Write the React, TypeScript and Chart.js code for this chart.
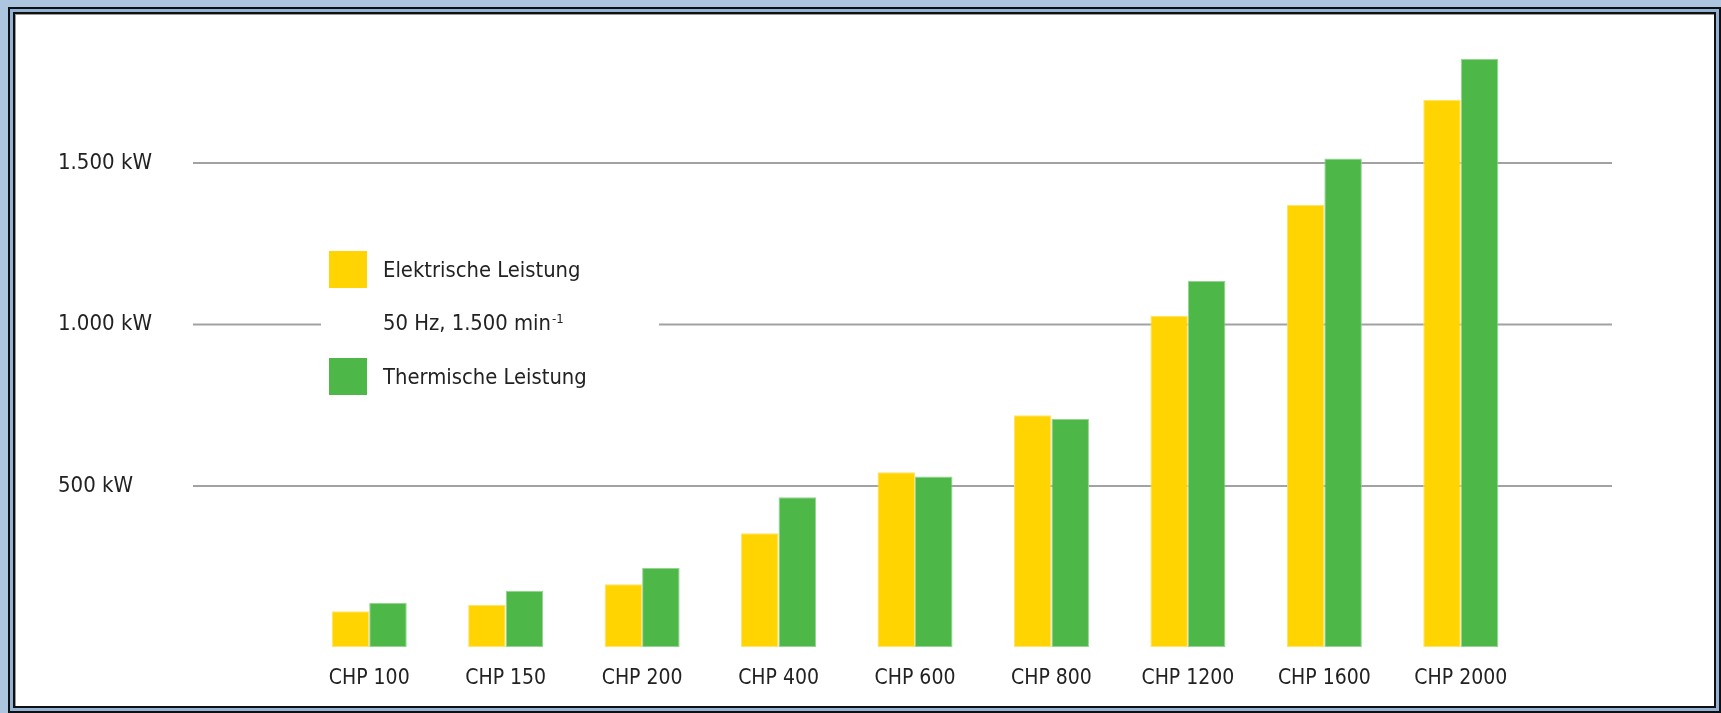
import React, { useEffect, useRef } from 'react';
import { Chart, registerables } from 'chart.js';

Chart.register(...registerables);

const categories = ['CHP 100', 'CHP 150', 'CHP 200', 'CHP 400', 'CHP 600', 'CHP 800', 'CHP 1200', 'CHP 1600', 'CHP 2000'];
const elektrisch = [112, 131, 195, 353, 542, 719, 1027, 1370, 1696];
const thermisch = [138, 175, 246, 465, 529, 707, 1135, 1514, 1823];
const yTickValues = [500, 1000, 1500];
const seriesLabels = ['Elektrische Leistung', 'Thermische Leistung'];
const noteText = '50 Hz, 1.500 min';
const noteSup = '-1';

const YELLOW = '#FFD400';
const GREEN = '#4DB748';
const TEXT = '#222222';
const FONT = '"DejaVu Sans Condensed", "Liberation Sans", Arial, sans-serif';

function fmtKW(v: number): string {
  const s = String(Math.round(v));
  const withDots = s.replace(/\B(?=(\d{3})+(?!\d))/g, '.');
  return withDots + ' kW';
}

const gridPlugin = {
  id: 'extGrid',
  beforeDatasetsDraw(chart: any) {
    const { ctx, chartArea, scales } = chart;
    const y = scales.y;
    ctx.save();
    ctx.strokeStyle = '#a2a2a2';
    ctx.lineWidth = 2;
    yTickValues.forEach((v) => {
      const py = y.getPixelForValue(v);
      ctx.beginPath();
      ctx.moveTo(chartArea.left - 108, py);
      ctx.lineTo(chartArea.right + 83, py);
      ctx.stroke();
    });
    ctx.restore();
  },
};

const legendPlugin = {
  id: 'customLegend',
  afterDraw(chart: any) {
    const { ctx, scales } = chart;
    const y = scales.y;
    const midY = y.getPixelForValue(1000);
    ctx.save();
    ctx.fillStyle = '#ffffff';
    ctx.fillRect(321, midY - 14, 338, 28);
    const colors = [YELLOW, GREEN];
    const boxY = [251, 358];
    const baseY = [277, 384];
    ctx.font = `21.8px ${FONT}`;
    ctx.textBaseline = 'alphabetic';
    ctx.textAlign = 'left';
    for (let i = 0; i < 2; i++) {
      ctx.fillStyle = colors[i];
      ctx.fillRect(329, boxY[i], 38, 37);
      ctx.fillStyle = TEXT;
      ctx.fillText(seriesLabels[i], 383, baseY[i]);
    }
    ctx.fillStyle = TEXT;
    ctx.fillText(noteText, 383, 330);
    const w = ctx.measureText(noteText).width;
    ctx.font = `13px ${FONT}`;
    ctx.fillText(noteSup, 383 + w + 1, 323);
    ctx.restore();
  },
};

export default function App() {
  const canvasRef = useRef<HTMLCanvasElement | null>(null);

  useEffect(() => {
    if (!canvasRef.current) return;
    const chart = new Chart(canvasRef.current, {
      type: 'bar',
      data: {
        labels: categories,
        datasets: [
          {
            label: seriesLabels[0],
            data: elektrisch,
            backgroundColor: YELLOW,
            borderColor: '#ffe36a',
            borderWidth: 1,
            borderSkipped: false,
          },
          {
            label: seriesLabels[1],
            data: thermisch,
            backgroundColor: GREEN,
            borderColor: '#95d391',
            borderWidth: 1,
            borderSkipped: false,
          },
        ],
      },
      options: {
        animation: false,
        responsive: true,
        maintainAspectRatio: false,
        layout: { padding: { left: 58, right: 192, top: 34, bottom: 0 } },
        datasets: {
          bar: { categoryPercentage: 0.55, barPercentage: 1 },
        },
        plugins: {
          legend: { display: false },
          tooltip: { enabled: false },
          title: { display: false },
        },
        scales: {
          x: {
            grid: { display: false, drawTicks: false },
            border: { display: false },
            ticks: {
              autoSkip: false,
              maxRotation: 0,
              minRotation: 0,
              padding: 19,
              color: TEXT,
              font: { family: FONT, size: 21 },
            },
            afterFit(scale: any) {
              scale.height = 65.7;
            },
          },
          y: {
            min: 0,
            max: 1900,
            grid: { display: false, drawTicks: false },
            border: { display: false },
            ticks: {
              stepSize: 500,
              crossAlign: 'far',
              padding: 0,
              color: TEXT,
              font: { family: FONT, size: 22 },
              callback: (v: any) => fmtKW(Number(v)),
            },
            afterBuildTicks(scale: any) {
              scale.ticks = yTickValues.map((v) => ({ value: v }));
            },
            afterFit(scale: any) {
              scale.width = 243;
            },
          },
        },
      },
      plugins: [gridPlugin, legendPlugin],
    });
    return () => chart.destroy();
  }, []);

  return (
    <div style={{ position: 'absolute', left: 0, top: 0, width: 1721, height: 713, background: '#adc6e0', overflow: 'hidden' }}>
      <div
        style={{
          position: 'absolute',
          left: 8,
          top: 7,
          width: 1713,
          height: 706,
          boxSizing: 'border-box',
          border: '2px solid #101010',
          padding: 3,
          background: '#93b3d6',
        }}
      >
        <div
          style={{
            width: '100%',
            height: '100%',
            boxSizing: 'border-box',
            border: '2px solid #101010',
            boxShadow: 'inset 1px 1px 0 #9a9a9a',
            background: '#ffffff',
          }}
        />
      </div>
      <div style={{ position: 'absolute', left: 0, top: 0, width: 1721, height: 713 }}>
        <canvas ref={canvasRef} />
      </div>
    </div>
  );
}
